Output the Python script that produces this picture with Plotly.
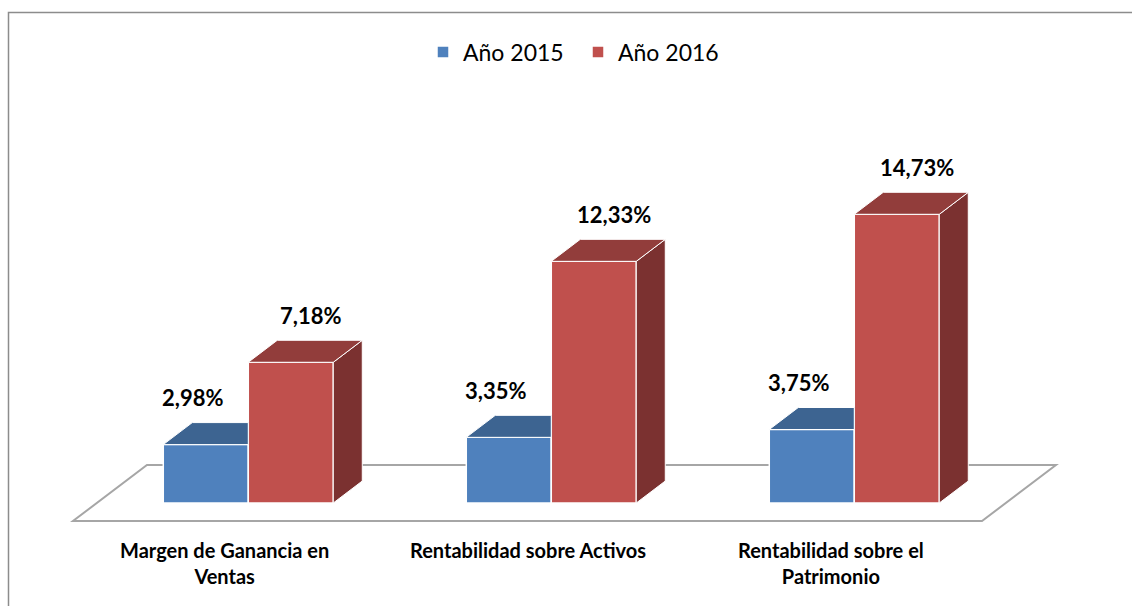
import plotly.graph_objects as go

# ---- data ----
categories = ["Margen de Ganancia en<br>Ventas", "Rentabilidad sobre Activos", "Rentabilidad sobre el<br>Patrimonio"]
series_names = ["Año 2015", "Año 2016"]
values_2015 = [2.98, 3.35, 3.75]
values_2016 = [7.18, 12.33, 14.73]

# ---- styling / geometry ----
W, H = 1132, 606
PXX = 303.0        # px per category
PXY = 19.6         # px per percent
X0PIX = 224.5      # pixel of category 0 (floor front)
Y0PIX = 503.0      # pixel of 0 % (bar front base)
DEPTH_PX_X, DEPTH_PX_Y = 29.0, 22.0
T_FRONT, T_BACK = -0.82, 1.73   # floor front/back in bar-depth units
BAR_PX = 85.0

ddx = DEPTH_PX_X / PXX
ddy = DEPTH_PX_Y / PXY
bw = BAR_PX / PXX
shift_front = -T_FRONT * ddx   # bar front center relative to category center

front_cols = ["#4F81BD", "#C0504D"]
top_cols = ["#3D6491", "#923D3B"]
side_cols = ["#385D8A", "#7B3130"]
label_dx_px = [-13, 20]

def px_dx(p):
    return p / PXX

fig = go.Figure()

series = [values_2015, values_2016]
n = len(categories)

# front faces as bars
for s, (name, vals) in enumerate(zip(series_names, series)):
    xs = [i + shift_front + (bw / 2 if s == 1 else -bw / 2) for i in range(n)]
    fig.add_trace(go.Bar(
        x=xs, y=vals, width=bw, base=0, name=name,
        marker=dict(color=front_cols[s], line=dict(color="white", width=1.5)),
        hoverinfo="skip",
    ))

# top and side faces
for i in range(n):
    c = i + shift_front
    hb, hr = values_2015[i], values_2016[i]
    # blue top (right part hidden behind taller red bar)
    xl, xr = c - bw, c
    if hr >= hb + ddy:
        px = [xl, xr, xr, xl + ddx, xl]
    else:
        px = [xl, xr, xr + ddx, xl + ddx, xl]
    py = [hb, hb, hb + ddy, hb + ddy, hb]
    fig.add_trace(go.Scatter(x=px, y=py, fill="toself", mode="lines",
                             fillcolor=top_cols[0], line=dict(color="white", width=1),
                             showlegend=False, hoverinfo="skip"))
    # red side
    xl, xr = c, c + bw
    fig.add_trace(go.Scatter(x=[xr, xr, xr + ddx, xr + ddx, xr],
                             y=[0, hr, hr + ddy, ddy, 0], fill="toself", mode="lines",
                             fillcolor=side_cols[1], line=dict(color="white", width=1),
                             showlegend=False, hoverinfo="skip"))
    # red top
    fig.add_trace(go.Scatter(x=[xl, xr, xr + ddx, xl + ddx, xl],
                             y=[hr, hr, hr + ddy, hr + ddy, hr], fill="toself", mode="lines",
                             fillcolor=top_cols[1], line=dict(color="white", width=1),
                             showlegend=False, hoverinfo="skip"))

# floor outline (below traces)
fy = T_FRONT * ddy
by = T_BACK * ddy
span = (T_BACK - T_FRONT) * ddx
x_left, x_right = -0.5, n - 0.5
path = (f"M {x_left},{fy} L {x_right},{fy} L {x_right + span},{by} "
        f"L {x_left + span},{by} Z")
shapes = [dict(type="path", path=path, xref="x", yref="y", layer="below",
               line=dict(color="#A6A6A6", width=2), fillcolor="rgba(0,0,0,0)")]
# chart border
shapes.append(dict(type="rect", xref="paper", yref="paper",
                   x0=8.5 / W, x1=1.02, y0=-0.02, y1=1 - 12.5 / H,
                   line=dict(color="#8C8C8C", width=1.5), layer="below"))

annotations = []
for s, vals in enumerate(series):
    for i, v in enumerate(vals):
        c = i + shift_front + (bw / 2 if s == 1 else -bw / 2)
        annotations.append(dict(
            x=c + px_dx(label_dx_px[s]), y=v + ddy, xref="x", yref="y",
            text=f"{v:.2f}".replace(".", ",") + "%", showarrow=False,
            yanchor="middle", yshift=25,
            font=dict(family="Lato", size=22, color="black", weight="bold"),
        ))
for i, cat in enumerate(categories):
    annotations.append(dict(
        x=i, y=fy, xref="x", yref="y", text=cat, showarrow=False,
        yanchor="top", yshift=-15,
        font=dict(family="Lato", size=20, color="black", weight="bold"),
    ))

fig.update_layout(
    width=W, height=H,
    margin=dict(l=0, r=0, t=0, b=0),
    paper_bgcolor="white", plot_bgcolor="white",
    barmode="overlay",
    xaxis=dict(range=[-X0PIX / PXX, (W - X0PIX) / PXX], visible=False, fixedrange=True),
    yaxis=dict(range=[-(H - Y0PIX) / PXY, Y0PIX / PXY], visible=False, fixedrange=True),
    showlegend=True,
    legend=dict(orientation="h", x=578 / W, xanchor="center", y=1 - 52 / H, yanchor="middle",
                font=dict(family="Lato", size=23, color="black"), itemwidth=30,
                entrywidth=110, bgcolor="rgba(0,0,0,0)"),
    shapes=shapes,
    annotations=annotations,
)

fig.write_html("out.html", config={"displayModeBar": False},
               post_script="document.body.style.margin='0';")
